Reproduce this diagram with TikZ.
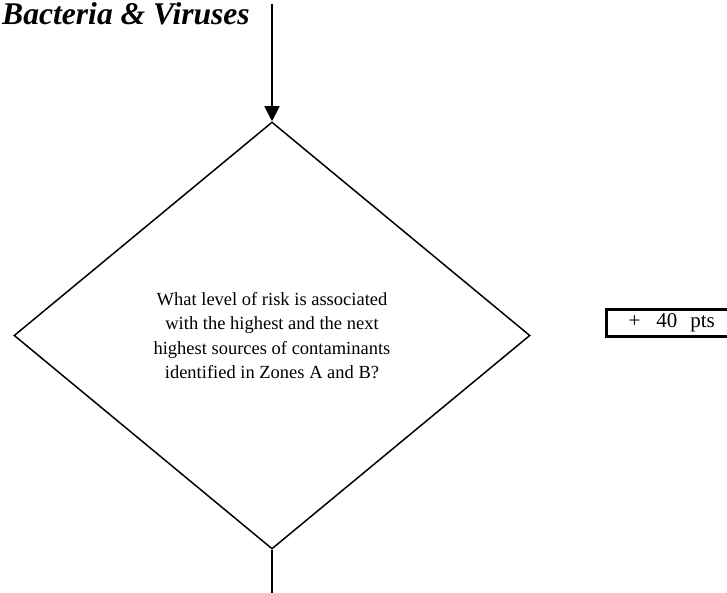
\documentclass[tikz,border=0pt]{standalone}
\usepackage{fontspec}
\setmainfont{Liberation Serif}
\usetikzlibrary{shapes.geometric,arrows.meta}
\tikzset{
  decision/.style={diamond, draw, line width=1.5pt, minimum width=516pt, minimum height=427pt, inner sep=0pt, align=center, font=\fontsize{18.5}{24.5}\selectfont},
  flow/.style={line width=1.8pt},
  flowarrow/.style={line width=1.8pt, -{Triangle[length=15pt,width=15pt]}},
  ptsbox/.style={draw, line width=3pt, minimum height=27pt, text width=150pt, inner xsep=0pt, align=left, font=\fontsize{21}{24}\selectfont},
  title/.style={font=\fontsize{31.6}{36}\selectfont\bfseries\itshape, inner sep=0pt}
}
\begin{document}
\begin{tikzpicture}[x=1pt,y=-1pt]
\useasboundingbox (0,0) rectangle (727,593);
\clip (0,0) rectangle (727,593);
\node[title, anchor=base west] (title) at (2,25) {Bacteria \& Viruses};
\coordinate (topin) at (272,4);
\coordinate (botout) at (272,600);
\node[decision] (q) at (272,335.5) {What level of risk is associated\\with the highest and the next\\highest sources of contaminants\\identified in Zones A and B?};
\draw[flowarrow] (topin) -- (q.north);
\draw[flow] (q.south) -- (botout);
\node[ptsbox, anchor=west] (pts) at (605,322.5) {\hspace*{22pt}+\hspace{16pt}40\hspace{13pt}pts};
\end{tikzpicture}
\end{document}
